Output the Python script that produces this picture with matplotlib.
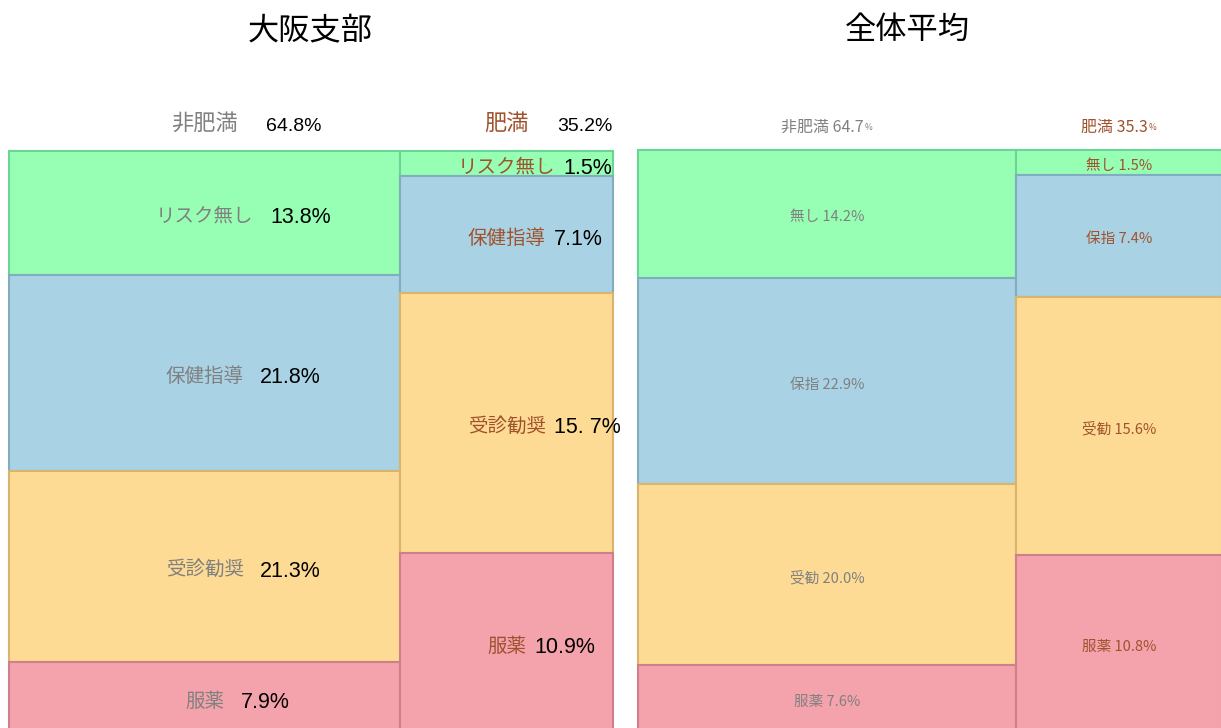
import matplotlib
matplotlib.use("Agg")
import matplotlib.pyplot as plt
from matplotlib.patches import Rectangle

plt.rcParams["font.family"] = ["Noto Sans CJK JP", "DejaVu Sans"]

# data
categories = ["リスク無し", "保健指導", "受診勧奨", "服薬"]
short_categories = ["無し", "保指", "受勧", "服薬"]
groups = ["非肥満", "肥満"]

osaka_group_share = [64.8, 35.2]
osaka_nonobese = [13.8, 21.8, 21.3, 7.9]
osaka_obese = [1.5, 7.1, 15.7, 10.9]
osaka_obese_text = ["1.5%", "7.1%", "15. 7%", "10.9%"]

all_group_share = [64.7, 35.3]
all_nonobese = [14.2, 22.9, 20.0, 7.6]
all_obese = [1.5, 7.4, 15.6, 10.8]

face_colors = ["#96ffb4", "#a9d3e5", "#fddb94", "#f4a2ac"]
edge_colors = ["#6dd497", "#82acc0", "#d9b46c", "#cf7f8a"]
group_text_colors = ["#808080", "#a0522d"]

W, H = 1221, 728
fig = plt.figure(figsize=(W / 100, H / 100), dpi=100)

NARROW = ["Liberation Sans", "DejaVu Sans"]


def fig_axes(x0, x1, y0, y1):
    return fig.add_axes([x0 / W, 1 - y1 / H, (x1 - x0) / W, (y1 - y0) / H])


def draw_mosaic(ax, share, cols):
    ax.set_xlim(0, 100)
    ax.set_ylim(100, 0)
    ax.axis("off")
    cells = []
    x = 0
    for g, vals in enumerate(cols):
        w = share[g]
        total = sum(vals)
        y = 0
        col_cells = []
        for i, v in enumerate(vals):
            h = v / total * 100
            ax.add_patch(Rectangle((x, y), w, h, facecolor=face_colors[i],
                                   edgecolor=edge_colors[i], linewidth=1.5,
                                   clip_on=False))
            col_cells.append((x + w / 2, y + h / 2))
            y += h
        cells.append(col_cells)
        x += w
    return cells


def label_pair(ax, x, y, label, pct, color, gap):
    t = ax.annotate(label, xy=(x, y), xytext=(0, -2.5), textcoords="offset points",
                    ha="center", va="center", fontsize=14, color=color,
                    annotation_clip=False)
    ax.annotate(pct, xy=(1, 0.5), xycoords=t, xytext=(gap, -1),
                textcoords="offset points", ha="left", va="center",
                fontsize=15.5, color="black", family=NARROW)


# --- left: 大阪支部
axL = fig_axes(9, 613, 151, 733)
cellsL = draw_mosaic(axL, osaka_group_share, [osaka_nonobese, osaka_obese])
fig.text(310 / W, 1 - 30 / H, "大阪支部", ha="center", va="center", fontsize=22.5)

xc = 0
for g in range(2):
    cx = xc + osaka_group_share[g] / 2
    xc += osaka_group_share[g]
    t = axL.annotate(groups[g], xy=(cx, 0), xytext=(0, 20), textcoords="offset points",
                     ha="center", va="center", fontsize=16, color=group_text_colors[g],
                     annotation_clip=False)
    axL.annotate(f"{osaka_group_share[g]}%", xy=(1, 0.5), xycoords=t, xytext=(20, -2.5),
                 textcoords="offset points", ha="left", va="center", fontsize=14,
                 family=NARROW)

for i in range(4):
    cx, cy = cellsL[0][i]
    label_pair(axL, cx, cy, categories[i], f"{osaka_nonobese[i]}%",
               group_text_colors[0], 12)
    cx, cy = cellsL[1][i]
    label_pair(axL, cx, cy, categories[i], osaka_obese_text[i],
               group_text_colors[1], 6)

# --- right: 全体平均
axR = fig_axes(638, 1222, 150, 733)
cellsR = draw_mosaic(axR, all_group_share, [all_nonobese, all_obese])
fig.text(907 / W, 1 - 30 / H, "全体平均", ha="center", va="center", fontsize=22.5)

xc = 0
for g in range(2):
    cx = xc + all_group_share[g] / 2
    xc += all_group_share[g]
    t = axR.annotate(f"{groups[g]} {all_group_share[g]}", xy=(cx, 0), xytext=(-3, 16.5),
                     textcoords="offset points", ha="center", va="center",
                     fontsize=11.5, color=group_text_colors[g], annotation_clip=False)
    axR.annotate("%", xy=(1, 0.2), xycoords=t, xytext=(0.5, 0),
                 textcoords="offset points", ha="left", va="bottom", fontsize=6,
                 color=group_text_colors[g])

for g, vals in enumerate([all_nonobese, all_obese]):
    for i in range(4):
        cx, cy = cellsR[g][i]
        axR.annotate(f"{short_categories[i]} {vals[i]}%", xy=(cx, cy), xytext=(0, -2.5),
                     textcoords="offset points", ha="center", va="center",
                     fontsize=10.5, color=group_text_colors[g], annotation_clip=False)

fig.savefig("out.png", dpi=100)
